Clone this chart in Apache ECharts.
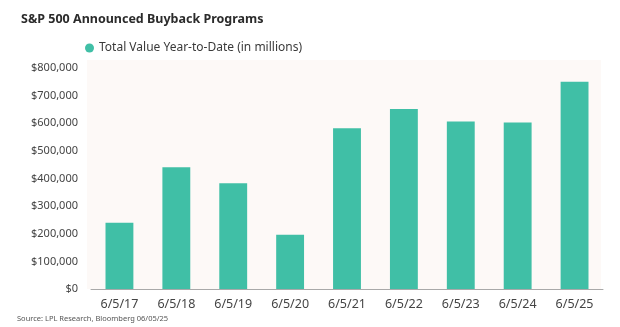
<!DOCTYPE html>
<html>
<head>
<meta charset="utf-8">
<script src="https://cdn.jsdelivr.net/npm/echarts@6/dist/echarts.min.js"></script>
<style>
  html, body { margin: 0; padding: 0; background: #fff; }
  #chart { width: 620px; height: 327px; }
</style>
</head>
<body>
<div id="chart"></div>
<script>
// data (millions of $)
const categories = ['6/5/17', '6/5/18', '6/5/19', '6/5/20', '6/5/21', '6/5/22', '6/5/23', '6/5/24', '6/5/25']
const buybackValues = [240000, 441000, 383000, 196000, 582000, 652000, 606000, 603000, 750000]
const seriesName = 'Total Value Year-to-Date (in millions)'

const fontFamily = '"Noto Sans", sans-serif'
const chart = echarts.init(document.getElementById('chart'))

const option = {
  backgroundColor: '#fff',
  animation: false,
  textStyle: { fontFamily },
  title: {
    text: 'S&P 500 Announced Buyback Programs',
    left: 16,
    top: 8,
    textStyle: { fontSize: 12.5, fontWeight: 'bold', color: '#2b2b2b', fontFamily }
  },
  legend: {
    data: [seriesName],
    left: 80,
    top: 37,
    icon: 'circle',
    itemWidth: 9,
    itemHeight: 9,
    itemGap: 6,
    textStyle: { fontSize: 12, color: '#3a3a3a', fontFamily }
  },
  graphic: [{
    // faint panel behind the plot
    type: 'rect',
    z: -10,
    shape: { x: 87, y: 60, width: 514, height: 229 },
    style: { fill: '#fdf9f7' }
  }, {
    type: 'text',
    left: 17,
    top: 315,
    style: { text: 'Source: LPL Research, Bloomberg 06/05/25', fontSize: 7.5, fill: '#555', fontFamily }
  }],
  grid: {
    left: 91,
    right: 17,
    top: 68,
    bottom: 38
  },
  xAxis: {
    type: 'category',
    data: categories,
    axisLine: { lineStyle: { color: '#a9a9a9', width: 1 } },
    axisTick: { show: false },
    axisLabel: { color: '#444', fontSize: 12.5, margin: 9, fontFamily }
  },
  yAxis: {
    type: 'value',
    min: 0,
    max: 800000,
    interval: 100000,
    splitLine: { show: false },
    axisLine: { show: false },
    axisTick: { show: false },
    axisLabel: {
      color: '#444',
      fontSize: 11,
      margin: 13,
      fontFamily,
      formatter: v => '$' + v.toLocaleString('en-US')
    }
  },
  series: [{
    name: seriesName,
    type: 'bar',
    data: buybackValues,
    barWidth: '49%',
    itemStyle: { color: '#40bfa6' }
  }]
}

chart.setOption(option)
</script>
</body>
</html>
